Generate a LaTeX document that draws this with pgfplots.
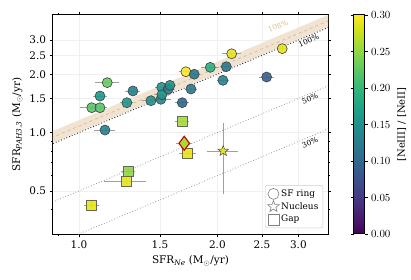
\documentclass[border=0pt]{standalone}
\usepackage{pgfplots}
\usepackage{pgfplotstable}
\pgfplotsset{compat=1.18}
\usepackage{fontspec}
\setmainfont{DejaVu Serif}
\definecolor{bandfill}{RGB}{240,227,210}
\definecolor{bandline}{RGB}{222,184,145}
\definecolor{bandtext}{RGB}{225,188,150}
\pgfdeclareplotmark{fstar}{%
  \pgfpathmoveto{\pgfqpointpolar{90}{\pgfplotmarksize}}%
  \pgfpathlineto{\pgfqpointpolar{126}{0.42\pgfplotmarksize}}%
  \pgfpathlineto{\pgfqpointpolar{162}{\pgfplotmarksize}}%
  \pgfpathlineto{\pgfqpointpolar{198}{0.42\pgfplotmarksize}}%
  \pgfpathlineto{\pgfqpointpolar{234}{\pgfplotmarksize}}%
  \pgfpathlineto{\pgfqpointpolar{270}{0.42\pgfplotmarksize}}%
  \pgfpathlineto{\pgfqpointpolar{306}{\pgfplotmarksize}}%
  \pgfpathlineto{\pgfqpointpolar{342}{0.42\pgfplotmarksize}}%
  \pgfpathlineto{\pgfqpointpolar{18}{\pgfplotmarksize}}%
  \pgfpathlineto{\pgfqpointpolar{54}{0.42\pgfplotmarksize}}%
  \pgfpathclose
  \pgfusepathqfillstroke}
\pgfdeclareplotmark{ostar}{%
  \pgfpathmoveto{\pgfqpointpolar{90}{\pgfplotmarksize}}%
  \pgfpathlineto{\pgfqpointpolar{126}{0.42\pgfplotmarksize}}%
  \pgfpathlineto{\pgfqpointpolar{162}{\pgfplotmarksize}}%
  \pgfpathlineto{\pgfqpointpolar{198}{0.42\pgfplotmarksize}}%
  \pgfpathlineto{\pgfqpointpolar{234}{\pgfplotmarksize}}%
  \pgfpathlineto{\pgfqpointpolar{270}{0.42\pgfplotmarksize}}%
  \pgfpathlineto{\pgfqpointpolar{306}{\pgfplotmarksize}}%
  \pgfpathlineto{\pgfqpointpolar{342}{0.42\pgfplotmarksize}}%
  \pgfpathlineto{\pgfqpointpolar{18}{\pgfplotmarksize}}%
  \pgfpathlineto{\pgfqpointpolar{54}{0.42\pgfplotmarksize}}%
  \pgfpathclose
  \pgfusepathqstroke}
\pgfplotstableread{
x y c ex ey
1.152 1.810 0.23 0.068 0.03
1.111 1.544 0.16 0.040 0.03
1.066 1.344 0.22 0.060 0.03
1.111 1.344 0.22 0.040 0.03
1.310 1.639 0.13 0.050 0.03
1.271 1.426 0.16 0.040 0.03
1.434 1.460 0.15 0.060 0.03
1.507 1.485 0.14 0.080 0.03
1.513 1.712 0.16 0.050 0.03
1.515 1.568 0.16 0.060 0.03
1.564 1.678 0.12 0.050 0.03
1.577 1.753 0.15 0.050 0.03
1.677 1.426 0.10 0.060 0.03
1.708 2.060 0.30 0.060 0.04
1.781 2.000 0.12 0.050 0.03
1.752 1.678 0.12 0.050 0.03
1.930 2.170 0.19 0.090 0.04
2.091 2.187 0.12 0.060 0.04
2.056 1.860 0.13 0.060 0.04
2.148 2.550 0.29 0.100 0.05
2.767 2.710 0.29 0.070 0.05
2.559 1.935 0.09 0.090 0.04
1.139 1.031 0.13 0.060 0.02
}\ringdata
\pgfplotstableread{
x y c ex ey
1.677 1.138 0.26 0.060 0.03
1.723 0.782 0.29 0.070 0.03
1.280 0.629 0.25 0.045 0.02
1.267 0.563 0.29 0.135 0.02
1.063 0.423 0.29 0.040 0.015
}\gapdata
\pgfplotstableread{
x y c ex ey
1.694 0.881 0.26 0.070 0.04
}\diamdata
\pgfplotstableread{
x y c ex ey
2.059 0.804 0.29 0.160 0.32
}\nucdata
\begin{document}
\begin{tikzpicture}
\useasboundingbox (-53bp,-46bp) rectangle (358bp,234bp);
\begin{axis}[
  at={(0,0)}, anchor=south west,
  scale only axis, width=275bp, height=219bp,
  xmode=log, ymode=log,
  xmin=0.878, xmax=3.48, ymin=0.30, ymax=4.04,
  xtick={1,1.5,2,2.5,3}, xticklabels={1.0,1.5,2.0,2.5,3.0},
  minor xtick={0.9},
  ytick={0.5,1,1.5,2,2.5,3}, yticklabels={0.5,1.0,1.5,2.0,2.5,3.0},
  minor ytick={0.4,0.6,0.7,0.8,0.9},
  tick align=outside,
  major tick length=3.5bp, minor tick length=2bp,
  tick style={black, line width=0.6bp},
  axis line style={line width=1bp},
  grid=major, major grid style={gray!12, line width=0.5bp},
  ticklabel style={font=\fontsize{10.5}{12}\selectfont},
  label style={font=\fontsize{10.5}{12}\selectfont},
  xlabel={SFR\textsubscript{\textit{Ne}} (M$_\odot$/yr)},
  ylabel={SFR\textsubscript{\textit{PAH3.3}} (M$_\odot$/yr)},
  /pgf/number format/assume math mode=true,
  colormap/viridis, point meta min=0, point meta max=0.3,
  colorbar,
  colorbar style={
    at={(parent axis.north east)}, anchor=north west, xshift=17bp,
    width=11bp,
    ytick={0,0.05,0.1,0.15,0.2,0.25,0.3},
    yticklabel style={font=\fontsize{10.5}{12}\selectfont,
      /pgf/number format/.cd, fixed, fixed zerofill, precision=2},
    ylabel={[NeIII] / [NeII]},
    ylabel style={font=\fontsize{10.5}{12}\selectfont, xshift=-4bp},
    ylabel near ticks, yticklabel pos=right,
    tick align=outside, major tick length=3bp,
    axis line style={line width=1bp},
  },
  legend style={at={(0.982,0.027)}, anchor=south east,
    font=\fontsize{9}{11}\selectfont, rounded corners=2bp,
    draw=gray!40, fill=white, row sep=0.5bp, inner sep=2.5bp},
  legend cell align=left,
]
% band and reference lines
\addplot[fill=bandfill, draw=none, forget plot] coordinates {(0.8,0.808) (4,4.04) (4,4.64) (0.8,0.928)} -- cycle;
\addplot[bandline, dashed, line width=0.7bp, forget plot] coordinates {(0.8,0.864) (4,4.32)};
\addplot[black!85, dotted, line width=0.9bp, forget plot] coordinates {(0.8,0.8) (4,4)};
\addplot[gray!80, dotted, line width=0.8bp, forget plot] coordinates {(0.8,0.4) (4,2)};
\addplot[gray!80, dotted, line width=0.8bp, forget plot] coordinates {(0.8,0.24) (4,1.2)};
\node[rotate=23, text=bandtext, font=\fontsize{7.5}{8}\selectfont] at (axis cs:2.71,3.54) {108\%};
\node[rotate=23, font=\fontsize{7.5}{8}\selectfont] at (axis cs:3.16,2.98) {100\%};
\node[rotate=23, font=\fontsize{7.5}{8}\selectfont] at (axis cs:3.18,1.50) {50\%};
\node[rotate=23, font=\fontsize{7.5}{8}\selectfont] at (axis cs:3.18,0.89) {30\%};
% markers
\addplot[scatter, only marks, mark=*, mark size=5bp, forget plot,
  scatter/use mapped color={draw=black!75, fill=mapped color, fill opacity=0.9, line width=0.6bp},
  point meta=explicit] table[x=x, y=y, meta=c] {\ringdata};
\addplot[scatter, only marks, mark=square*, mark size=5bp, forget plot,
  scatter/use mapped color={draw=black!60, fill=mapped color, fill opacity=0.9, line width=0.6bp},
  point meta=explicit] table[x=x, y=y, meta=c] {\gapdata};
\addplot[scatter, only marks, mark=diamond*, mark size=7bp, forget plot,
  scatter/use mapped color={draw=red!80!black, fill=mapped color, line width=1.1bp},
  point meta=explicit] table[x=x, y=y, meta=c] {\diamdata};
\addplot[scatter, only marks, mark=fstar, mark size=5.5bp, forget plot,
  scatter/use mapped color={draw=black!70, fill=mapped color, line width=0.5bp},
  point meta=explicit] table[x=x, y=y, meta=c] {\nucdata};
% error bars
\addplot[draw=none, mark=none, forget plot,
  error bars/.cd, x dir=both, x explicit, y dir=both, y explicit, error mark=none,
  error bar style={draw=gray!75, solid, line width=0.55bp}]
  table[x=x, y=y, x error=ex, y error=ey] {\ringdata};
\addplot[draw=none, mark=none, forget plot,
  error bars/.cd, x dir=both, x explicit, y dir=both, y explicit, error mark=none,
  error bar style={draw=gray!75, solid, line width=0.55bp}]
  table[x=x, y=y, x error=ex, y error=ey] {\gapdata};
\addplot[draw=none, mark=none, forget plot,
  error bars/.cd, x dir=both, x explicit, y dir=both, y explicit, error mark=none,
  error bar style={draw=gray!75, solid, line width=0.55bp}]
  table[x=x, y=y, x error=ex, y error=ey] {\diamdata};
\addplot[draw=none, mark=none, forget plot,
  error bars/.cd, x dir=both, x explicit, y dir=both, y explicit, error mark=none,
  error bar style={draw=gray!75, solid, line width=0.55bp}]
  table[x=x, y=y, x error=ex, y error=ey] {\nucdata};
% legend
\addlegendimage{only marks, mark=o, mark size=5.5bp, draw=gray, line width=0.6bp}
\addlegendentry{SF ring}
\addlegendimage{only marks, mark=ostar, mark size=6bp, draw=gray, line width=0.6bp}
\addlegendentry{Nucleus}
\addlegendimage{only marks, mark=square, mark size=5.5bp, draw=gray, line width=0.6bp}
\addlegendentry{Gap}
\end{axis}
\end{tikzpicture}
\end{document}
